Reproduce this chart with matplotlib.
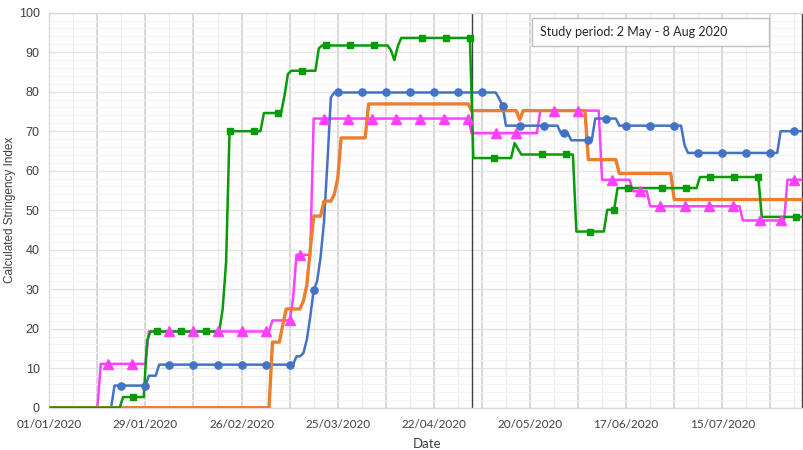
import datetime as dt
import numpy as np
import matplotlib
matplotlib.use('Agg')
import matplotlib.pyplot as plt
from matplotlib.ticker import MultipleLocator, FuncFormatter
from matplotlib.patches import Rectangle

# days since 01/01/2020; each series given as (day it changes, new value)
n_days = 220

blue_days = [0, 19, 29, 32, 72, 74, 75, 76, 77, 78, 79, 80, 81, 82, 83,
             131, 132, 133, 149, 152, 159, 166, 185, 186, 213]
blue_vals = [0, 5.6, 8.1, 10.9, 13.0, 13.8, 17.2, 23.0, 29.8, 32.0, 38.0, 47.0, 62.0, 78.5, 79.8,
             78.3, 76.5, 71.4, 69.5, 67.7, 73.2, 71.4, 66.5, 64.5, 70.0]
blue_marks = [21, 28, 35, 42, 49, 56, 63, 70, 77, 84, 91, 98, 105, 112, 119, 126,
              132, 137, 144, 150, 157, 162, 168, 175, 182, 189, 196, 203, 210, 217]

orange_days = [0, 65, 68, 69, 74, 75, 76, 77, 80, 83, 84, 85, 93, 123, 137, 138, 157, 166, 182]
orange_vals = [0, 16.6, 21.0, 25.0, 27.0, 31.0, 40.0, 48.5, 52.3, 54.0, 58.0, 68.3, 76.9,
               75.2, 72.9, 75.2, 62.8, 59.3, 52.7]

# green is plotted half a day later than the others
green_days = [0, 21, 28, 29, 50, 51, 52, 62, 68, 69, 70, 78, 79, 99, 100, 101, 102,
              123, 135, 136, 137, 153, 162, 165, 189, 207]
green_vals = [0, 2.7, 17.0, 19.3, 25.0, 37.0, 70.0, 74.6, 79.0, 84.5, 85.3, 91.0, 91.7,
              90.5, 88.0, 91.5, 93.6, 63.2, 67.0, 65.5, 64.1, 44.6, 50.1, 55.6, 58.4, 48.3]
green_marks = [24, 31, 38, 45, 52, 59, 66, 73, 80, 87, 94, 108, 115, 122, 129, 143, 150,
               157, 164, 168, 178, 185, 192, 199, 206, 217]

magenta_days = [0, 15, 29, 65, 71, 72, 77, 123, 143, 161, 170, 175, 202, 215]
magenta_vals = [0, 11.1, 19.3, 22.1, 27.7, 38.7, 73.2, 69.5, 75.2, 57.7, 54.8, 51.0, 47.4, 57.7]
magenta_marks = [17, 24, 35, 42, 49, 56, 63, 70, 73, 80, 87, 94, 101, 108, 115, 122, 130,
                 136, 147, 154, 164, 172, 178, 185, 192, 199, 207, 213, 217]

study_lines = [123, 219.3]
study_text = 'Study period: 2 May - 8 Aug 2020'
start_date = dt.date(2020, 1, 1)


def daily(days, vals):
    out = np.zeros(n_days)
    for i, d in enumerate(days):
        out[d:] = vals[i]
    return out


x = np.arange(n_days)
blue = daily(blue_days, blue_vals)
orange = daily(orange_days, orange_vals)
green = daily(green_days, green_vals)
magenta = daily(magenta_days, magenta_vals)

fig = plt.figure(figsize=(8.04, 4.5), dpi=100)
ax = fig.add_axes([0.0613, 0.094, 1 - 0.0613, 0.8778])

# lines first, markers on top (like Excel)
ax.plot(x, magenta, color='#FF40FF', lw=1.8, zorder=3)
ax.plot(x, blue, color='#4472C4', lw=1.8, zorder=3)
ax.plot(x, orange, color='#ED7D31', lw=2.4, zorder=3)
ax.plot(x + 0.5, green, color='#089A08', lw=1.8, zorder=4)

ax.plot(x, blue, ls='none', marker='o', ms=5.2, color='#4472C4', markevery=blue_marks, zorder=5)
ax.plot(x + 0.5, green, ls='none', marker='s', ms=4.8, color='#089A08', markevery=green_marks, zorder=5)
ax.plot(x, magenta, ls='none', marker='^', ms=6.5, color='#FF40FF', markevery=magenta_marks, zorder=5)

for d in study_lines:
    ax.axvline(d, color='#404040', lw=1.0, zorder=2)

ax.set_xlim(0, 219.8)
ax.set_ylim(0, 100)

ax.xaxis.set_major_locator(MultipleLocator(14))
ax.xaxis.set_minor_locator(MultipleLocator(7))
ax.yaxis.set_major_locator(MultipleLocator(10))
ax.yaxis.set_minor_locator(MultipleLocator(2))


def date_fmt(v, pos):
    if int(round(v)) % 28 != 0:
        return ''
    return (start_date + dt.timedelta(days=int(round(v)))).strftime('%d/%m/%Y')


ax.xaxis.set_major_formatter(FuncFormatter(date_fmt))
ax.tick_params(which='both', length=0)
ax.tick_params(axis='x', pad=8, labelsize=8.5, labelcolor='#404040')
ax.tick_params(axis='y', pad=7, labelsize=9, labelcolor='#404040')
for lab in ax.get_xticklabels():
    lab.set_family('Lato')
for lab in ax.get_yticklabels():
    lab.set_family('Liberation Sans')

ax.grid(axis='x', which='major', color='#D4D4D4', lw=1.3, zorder=0)
ax.grid(axis='x', which='minor', color='#ECECEC', lw=1.0, zorder=0)
ax.grid(axis='y', which='major', color='#E3E3E3', lw=1.0, zorder=0)
ax.grid(axis='y', which='minor', color='#F3F3F3', lw=0.8, zorder=0)
ax.set_axisbelow(True)

for s in ax.spines.values():
    s.set_color('#D9D9D9')
    s.set_linewidth(1.0)
ax.spines['right'].set_visible(False)

ax.set_xlabel('Date', family='Lato', fontsize=9.5, color='#404040', labelpad=6)
ax.set_ylabel('Calculated Stringency Index', family='Liberation Sans', fontsize=8.5,
              color='#404040', labelpad=1.5)

# study period box
ax.add_patch(Rectangle((0.640, 0.916), 0.313, 0.070, transform=ax.transAxes,
                       facecolor='white', edgecolor='#BFBFBF', lw=1.0, zorder=6))
ax.text(0.6505, 0.952, study_text, transform=ax.transAxes, family='Lato', fontsize=9,
        color='#262626', va='center', ha='left', zorder=7)

fig.savefig('out.png', dpi=100)
